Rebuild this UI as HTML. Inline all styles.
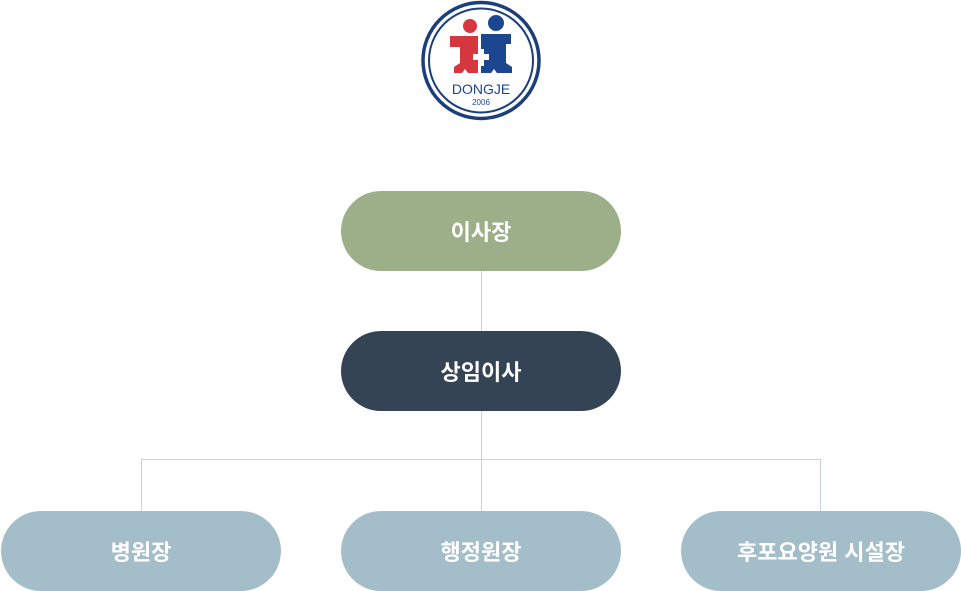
<!DOCTYPE html>
<html><head><meta charset="utf-8"><style>
body{margin:0;width:961px;height:591px;background:#fff;position:relative;overflow:hidden;font-family:"Liberation Sans","Noto Sans CJK KR",sans-serif}
.b{position:absolute;width:280px;height:80px;border-radius:40px;color:#fff;font-weight:bold;font-size:22px;display:flex;align-items:center;justify-content:center}
.l{position:absolute;background:#c8d3d8}
</style></head><body>
<svg style="position:absolute;left:421px;top:0" width="120" height="121" viewBox="0 0 120 121">
<circle cx="60" cy="60.5" r="58" fill="#fff" stroke="#1b3f7a" stroke-width="3.5"/>
<circle cx="60" cy="60.5" r="52" fill="none" stroke="#1b3f7a" stroke-width="2"/>
<circle cx="49" cy="26" r="7" fill="#d8363e"/>
<circle cx="75" cy="23" r="8" fill="#1d4690"/>
<path d="M29 36H57V73H47L44 69L41 73H33V67L39 63V47H29Z" fill="#d8363e"/>
<path d="M60 34H90V44H85V63L91 67V73H76L73 69L70 73H60Z" fill="#1d4690"/>
<rect x="52" y="54" width="16" height="6" fill="#fff"/><rect x="57" y="49" width="6" height="17" fill="#fff"/>
<text x="60" y="94" font-size="14" fill="#1d4690" text-anchor="middle" font-family="Liberation Sans">DONGJE</text>
<text x="60" y="105" font-size="8" fill="#1d4690" text-anchor="middle" font-family="Liberation Sans">2006</text>
</svg>
<div class="l" style="left:481px;top:271px;width:1px;height:60px"></div>
<div class="l" style="left:481px;top:411px;width:1px;height:100px"></div>
<div class="l" style="left:141px;top:459px;width:680px;height:1px"></div>
<div class="l" style="left:141px;top:459px;width:1px;height:52px"></div>
<div class="l" style="left:820px;top:459px;width:1px;height:52px"></div>
<div class="b" style="left:341px;top:191px;background:#9caf88">이사장</div>
<div class="b" style="left:341px;top:331px;background:#344454">상임이사</div>
<div class="b" style="left:1px;top:511px;background:#a3bec8">병원장</div>
<div class="b" style="left:341px;top:511px;background:#a3bec8">행정원장</div>
<div class="b" style="left:681px;top:511px;background:#a3bec8">후포요양원 시설장</div>
</body></html>
